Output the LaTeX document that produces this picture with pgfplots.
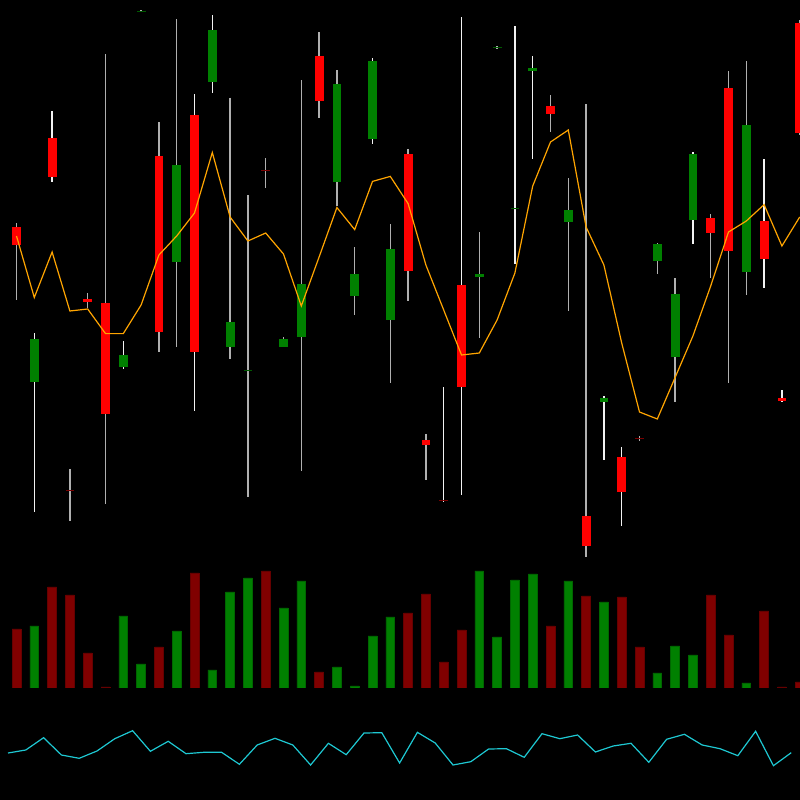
\documentclass[border=0pt]{standalone}
\usepackage{pgfplots}
\usepackage{pgfplotstable}
\pgfplotsset{compat=1.18}

\definecolor{upgreen}{HTML}{008000}
\definecolor{downred}{HTML}{FF0000}
\definecolor{dojigreen}{HTML}{005A00}
\definecolor{dojired}{HTML}{7A0000}
\definecolor{volred}{HTML}{800000}
\definecolor{volgreen}{HTML}{008000}
\definecolor{wickgray}{HTML}{B0B0B0}
\definecolor{wickwhite}{HTML}{F2F2F2}
\definecolor{maorange}{HTML}{FFA500}
\definecolor{osccyan}{HTML}{1EC8D2}

% candles: t = 1 up, 2 down, 3 doji up, 4 doji down; w = 1 white wick
\pgfplotstableread{
x o h l c t w
0 373 377 300 355 2 0
1 218 267 88 261 1 1
2 462 489 418 423 2 1
3 110 131 79 108.5 4 0
4 301 307 292 298 2 0
5 297 546 96 186 2 0
6 233 259 231 245 1 1
7 588.5 590 588 589.5 3 0
8 444 478 248 268 2 0
9 338 581 253 435 1 0
10 485 506 189 248 2 1
11 518 585 507 570 1 1
12 253 502.5 241 278 1 0
13 229.5 405 103 230.5 3 0
14 430.5 442 412 429.5 4 0
15 253 263 253 261 1 0
16 263 520 129 316 1 0
17 544 568 482 499 2 0
18 418 530 394 516 1 0
19 304 353 285 326 1 0
20 461 542 456 539 1 1
21 280 376 217 351 1 0
22 446 451 299 329 2 0
23 160 166 120 155 2 0
24 99.5 213 98 98.5 4 1
25 315 583 105 213 2 1
26 323 368 262 326 1 0
27 552 554 551 553 3 0
28 391.5 574 336 392.5 3 1
29 529 544 441 532.5 1 1
30 494 505 468 486 2 0
31 378 422 289 390 1 0
32 84 496 43 54 2 0
33 198.5 204 140 202.5 1 1
34 142.5 153 74 108 2 1
35 161.5 163.5 158.5 160.5 4 0
36 339 357 326 356 1 0
37 243 322 198 306 1 0
38 380 448 356 446 1 1
39 382 386 322 367.5 2 0
40 512 529 217 349 2 0
41 328 539 305 475 1 0
42 379 441 312 341 2 1
43 202 210 198 199 2 1
44 577 580 465 467 2 0
}\candles

\pgfplotstableread{
x ma
0 364
1 302.5
2 348
3 289
4 291
5 266.4
6 266.4
7 295
8 345
9 364
10 387
11 447.5
12 383
13 359
14 367
15 346
16 294
17 343
18 392.5
19 370.4
20 418.6
21 423.6
22 396.4
23 335
24 290
25 245
26 247
27 280
28 327
29 414
30 458
31 470
32 373
33 335
34 257
35 188
36 181
37 222.5
38 264
39 314
40 368
41 379
42 395.4
43 354
44 383
}\mavg

% volume: t = 1 up, 2 down
\pgfplotstableread{
x v t
0 59 2
1 62 1
2 101 2
3 93 2
4 35 2
5 1 2
6 72 1
7 24 1
8 41 2
9 57 1
10 115 2
11 18 1
12 96 1
13 110 1
14 117 2
15 80 1
16 107 1
17 16 2
18 21 1
19 2 1
20 52 1
21 71 1
22 75 2
23 94 2
24 26 2
25 58 2
26 117 1
27 51 1
28 108 1
29 114 1
30 62 2
31 107 1
32 92 2
33 86 1
34 91 2
35 41 2
36 15 1
37 42 1
38 33 1
39 93 2
40 53 2
41 5 1
42 77 2
43 1 2
44 6 2
}\volume

\pgfplotstableread{
x y
0 47
1 50
2 62.3
3 45
4 41.7
5 49
6 61.3
7 69.3
8 48.7
9 58.7
10 46.3
11 47.7
12 47.7
13 35.7
14 55
15 61.7
16 55
17 35
18 56.7
19 45.3
20 67
21 67.3
22 37
23 67.7
24 57
25 35
26 38.3
27 51
28 51.3
29 42.7
30 66.3
31 61.3
32 65
33 48
34 54
35 56.7
36 37.7
37 60.7
38 65.7
39 55
40 51.3
41 44.3
42 68.7
43 34.3
44 47.3
}\osc

\pgfplotsset{
  only/.style 2 args={restrict expr to domain={\thisrow{#1}}{#2:#2}},
  panel/.style={scale only axis, width=8cm, hide axis, anchor=south west},
  wick/.style={draw=none, no markers,
    error bars/y dir=minus, error bars/y explicit, error bars/error mark=none,
    error bars/error bar style={draw=#1, line width=0.015cm}},
  body/.style={draw=none, no markers,
    error bars/y dir=minus, error bars/y explicit, error bars/error mark=none,
    error bars/error bar style={draw=#1, line width=0.088cm}},
}

\begin{document}
\begin{tikzpicture}
\fill[black] (0,0) rectangle (8cm,8cm);

% price panel
\begin{axis}[panel, at={(0,2.4cm)}, height=5.6cm,
  xmin=-0.927, xmax=44.017, ymin=40, ymax=600]
  \addplot [only={w}{0}, wick=wickgray]
    table [x=x, y=h, y error minus expr={\thisrow{h}-\thisrow{l}}] {\candles};
  \addplot [only={w}{1}, wick=wickwhite]
    table [x=x, y=h, y error minus expr={\thisrow{h}-\thisrow{l}}] {\candles};
  \addplot [only={t}{1}, body=upgreen]
    table [x=x, y expr={max(\thisrow{o},\thisrow{c})}, y error minus expr={abs(\thisrow{o}-\thisrow{c})}] {\candles};
  \addplot [only={t}{2}, body=downred]
    table [x=x, y expr={max(\thisrow{o},\thisrow{c})}, y error minus expr={abs(\thisrow{o}-\thisrow{c})}] {\candles};
  \addplot [only={t}{3}, body=dojigreen]
    table [x=x, y expr={max(\thisrow{o},\thisrow{c})}, y error minus expr={abs(\thisrow{o}-\thisrow{c})}] {\candles};
  \addplot [only={t}{4}, body=dojired]
    table [x=x, y expr={max(\thisrow{o},\thisrow{c})}, y error minus expr={abs(\thisrow{o}-\thisrow{c})}] {\candles};
  \addplot [maorange, line width=0.012cm, mark=none] table [x=x, y=ma] {\mavg};
\end{axis}

% volume panel
\begin{axis}[panel, at={(0,1.12cm)}, height=1.28cm,
  xmin=-0.927, xmax=44.017, ymin=0, ymax=128,
  ybar, bar width=0.088cm, bar shift=0pt]
  \addplot [only={t}{1}, fill=volgreen, draw=volgreen!80!black, line width=0.2pt]
    table [x=x, y=v] {\volume};
  \addplot [only={t}{2}, fill=volred, draw=volred!80!black, line width=0.2pt]
    table [x=x, y=v] {\volume};
\end{axis}

% oscillator panel
\begin{axis}[panel, at={(0,0)}, height=1.12cm,
  xmin=-0.449, xmax=44.494, ymin=0, ymax=112]
  \addplot [osccyan, line width=0.012cm, mark=none] table [x=x, y=y] {\osc};
\end{axis}

\pgfresetboundingbox
\path (0,0) rectangle (8cm,8cm);
\end{tikzpicture}
\end{document}
